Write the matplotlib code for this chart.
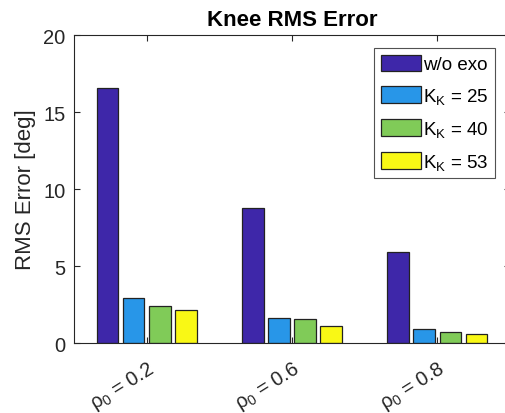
import matplotlib
matplotlib.use("Agg")
import matplotlib.pyplot as plt
import numpy as np

plt.rcParams['font.family'] = ['Liberation Sans', 'DejaVu Sans']
plt.rcParams['mathtext.fontset'] = 'custom'
plt.rcParams['mathtext.rm'] = 'Liberation Sans'
plt.rcParams['mathtext.it'] = 'Liberation Sans'

categories = [r'$\rho_0$ = 0.2', r'$\rho_0$ = 0.6', r'$\rho_0$ = 0.8']
series_labels = ['w/o exo', r'K$_\mathrm{K}$ = 25', r'K$_\mathrm{K}$ = 40', r'K$_\mathrm{K}$ = 53']
wo_exo = [16.55, 8.77, 5.9]
kk25 = [2.92, 1.62, 0.91]
kk40 = [2.4, 1.56, 0.71]
kk53 = [2.14, 1.08, 0.58]
yticks = [0, 5, 10, 15, 20]

series = [wo_exo, kk25, kk40, kk53]
colors = ['#3E27A9', '#2896E8', '#80CB58', '#F9F815']

fig = plt.figure(figsize=(5.05, 4.14), dpi=100)
ax = fig.add_axes([0.1465, 0.169, 0.8634, 0.744])
x = np.arange(1, len(categories) + 1)
width = 0.15
offsets = [-0.27, -0.09, 0.09, 0.27]
for vals, off, c, lab in zip(series, offsets, colors, series_labels):
    ax.bar(x + off, vals, width, color=c, edgecolor='#222222', linewidth=0.9, label=lab)

ax.set_xlim(0.5, 3.5)
ax.set_ylim(0, 20)
ax.set_yticks(yticks)
ax.set_xticks(x)
ax.set_xticklabels(categories, rotation=32, ha='right', va='top', rotation_mode='anchor')
ax.tick_params(axis='both', direction='in', labelsize=14.5, colors='#262626', top=True, right=True, length=4.5)
ax.tick_params(axis='x', pad=10)
ax.tick_params(axis='y', pad=6)
for s in ax.spines.values():
    s.set_color('#262626')
    s.set_linewidth(0.8)
ax.set_ylabel('RMS Error [deg]', fontsize=16, color='#262626', labelpad=5)
ax.set_title('Knee RMS Error', fontsize=16, fontweight='bold', color='black', pad=7)

leg = ax.legend(loc='upper right', bbox_to_anchor=(0.9656, 0.958), fontsize=13.5, frameon=True, fancybox=False,
                edgecolor='#262626', handlelength=2.15, handleheight=1.0, handletextpad=0.1,
                labelspacing=0.68, borderpad=0.35, borderaxespad=0.0)
leg.get_frame().set_linewidth(0.8)

fig.savefig('out.png', dpi=100)
